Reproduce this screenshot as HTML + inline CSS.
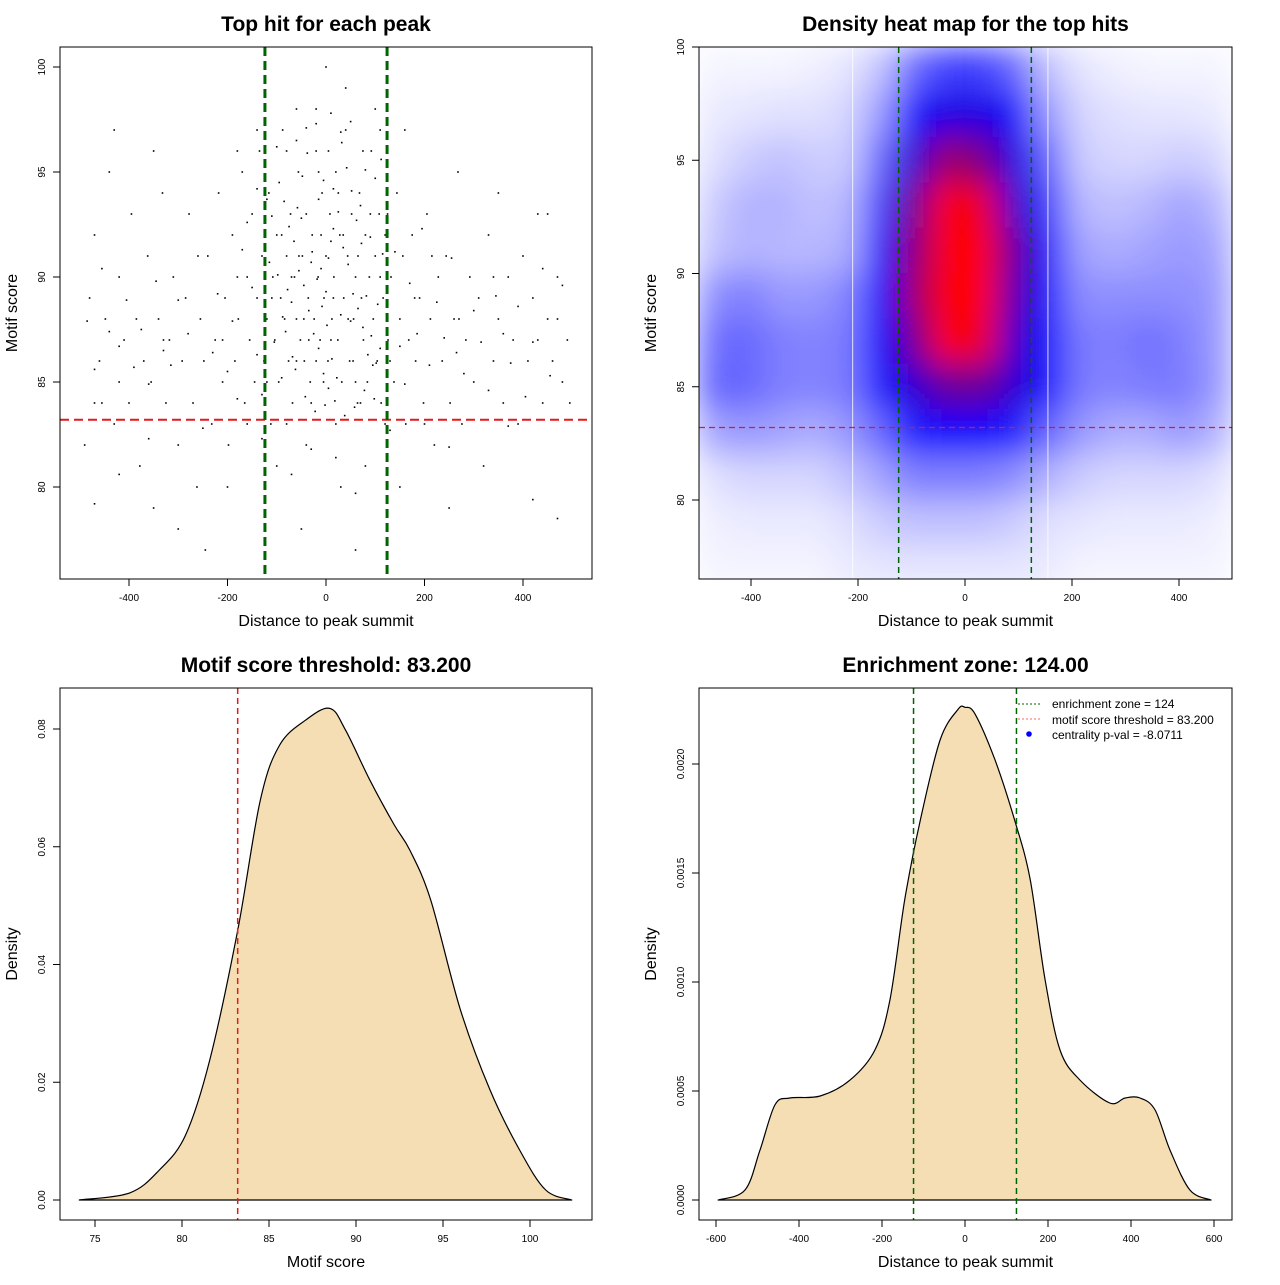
<!DOCTYPE html>
<html><head><meta charset="utf-8">
<style>
html,body{margin:0;padding:0;background:#fff;}
svg text{font-family:"Liberation Sans",sans-serif;fill:#000;}
</style></head>
<body>
<svg id="svg" width="1280" height="1280" viewBox="0 0 1280 1280" xmlns="http://www.w3.org/2000/svg">
<defs>
<clipPath id="c2"><rect x="699" y="47" width="533" height="532"/></clipPath>
<filter id="blur" x="0" y="0" width="1" height="1"><feGaussianBlur stdDeviation="16" edgeMode="duplicate"/></filter>
</defs>
</svg>
<script>
// ---------- data ----------
const scatterPts = "-480,89;-470,92;-460,86;-455,84;-448,88;-440,95;-430,83;-420,90;-410,87;-400,84;-395,93;-385,88;-378,81;-370,86;-362,91;-355,85;-350,79;-340,88;-332,94;-325,84;-318,87;-310,90;-300,82;-292,86;-285,89;-278,93;-270,84;-262,80;-255,88;-248,86;-240,91;-232,83;-225,87;-218,94;-210,85;-205,89;-198,82;-190,92;-185,86;-178,88;-170,95;-165,84;-160,90;-155,87;-150,93;-145,85;-140,89;-135,96;-130,91;-126,86;-120,88;-116,94;-112,83;-108,90;-104,87;-100,92;-96,85;-92,89;-88,97;-84,88;-80,91;-76,86;-72,93;-68,84;-64,90;-60,88;-56,95;-52,87;-48,91;-44,86;-40,93;-36,89;-32,85;-28,92;-24,88;-20,96;-16,90;-12,87;-8,94;-4,89;0,91;4,86;8,93;12,88;16,90;20,95;24,87;28,92;32,85;36,89;40,97;44,91;48,86;52,93;56,88;60,90;64,84;68,94;72,89;76,87;80,92;84,85;88,90;92,96;96,88;100,91;104,86;108,93;112,84;116,89;120,92;126,87;132,90;138,85;144,94;150,88;156,91;162,83;168,87;175,92;182,86;190,89;198,84;205,93;212,88;220,82;228,90;236,86;244,91;252,84;260,88;268,95;276,83;284,87;292,90;300,85;310,89;320,81;330,92;340,86;350,88;360,84;370,90;380,87;390,83;400,91;410,86;420,89;430,93;440,84;450,88;460,86;470,90;480,85;490,87;-140,97;-60,98;0,100;40,99;100,98;-100,81;-40,82;30,80;80,81;150,80;-200,80;-300,78;250,79;-50,78;60,77;-245,77;-80,83;20,83;-30,84;70,84;120,83;-160,83;200,83;-20,86;10,87;-45,88;55,86;-70,90;35,92;-90,92;90,93;-10,92;15,89;-55,91;65,91;-110,89;110,90;-35,87;45,88;-120,85;130,86;-60,86;60,85;-5,85;25,94;-15,95;5,96;-125,92;125,93;-180,90;180,89;-210,87;215,91;-260,91;270,88;-330,87;340,90;-420,85;430,87;-470,84;470,88;-490,82;495,84;-430,97;-350,96;350,94;450,93;-20,98;110,97;-80,96;75,96;-180,96;160,97";
const scatterPts2 = "-95,94.5;-85,93.6;-75,92.4;-65,91.7;-55,90.3;-45,89.6;-35,88.4;-25,87.3;-15,86.6;-5,85.4;5,84.7;15,94.2;25,93.1;35,91.4;45,90.6;55,89.2;65,88.5;75,87.6;85,86.3;95,85.8;105,88.7;115,91.1;-105,86.9;-115,90.7;-88,88.1;-78,89.4;-68,86.2;-58,93.3;-48,94.8;-38,95.9;-28,91.2;-18,89.9;-8,88.6;2,87.7;12,86.1;22,85.2;32,96.4;42,95.2;52,94.1;62,92.7;72,91.6;82,89.1;92,87.2;102,85.9;112,95.6;-98,90.1;-82,87.4;-62,85.6;-42,84.3;-22,83.6;-2,83.9;18,84.1;38,83.4;58,83.8;78,84.6;98,84.2;-150,89.5;-140,86.3;-130,84.4;-170,91.3;-190,87.9;-200,85.5;-220,89.2;-230,86.4;-180,84.2;-160,92.6;-140,94.2;140,91.2;150,86.7;160,84.9;170,89.7;185,87.3;195,92.3;210,85.8;225,88.8;240,87.1;255,90.9;265,86.4;280,85.4;300,88.4;315,86.9;330,84.6;345,89.1;360,87.3;375,85.9;390,88.6;405,84.3;420,86.9;440,90.4;455,85.3;480,89.6;-280,87.3;-300,88.9;-315,85.8;-330,86.5;-345,89.8;-360,84.9;-375,87.5;-390,85.7;-405,88.9;-420,86.7;-440,87.4;-455,90.4;-470,85.6;-485,87.9;-20,97.3;-40,97.1;10,97.8;30,96.9;50,97.4;-60,96.5;80,95.1;-120,93.7;-100,96.2;100,94.7;-30,81.8;20,81.4;-70,80.6;60,79.7;-130,82.3;130,82.7;-250,82.8;250,81.9;-360,82.3;370,82.9;-420,80.6;420,79.4;-470,79.2;470,78.5;-10,90.4;0,89.3;10,91.7;-50,92.8;50,87.9;-90,85.2;90,91.9;-110,92.9;110,86.6;-30,90.7;30,88.2;-70,88.8;70,93.4;-15,93.7;15,92.3;-5,94.6;5,90.9";
const heatX = [-469,-406,-344,-281,-219,-156,-94,-31,31,94,156,219,281,344,406,469];
const heatY = [99,97,95,93,91,89,87,85,83,81,79,77];
const heatZ = [
[.02,.02,.02,.03,.05,.12,.3,.38,.38,.3,.12,.05,.03,.02,.02,.02],
[.04,.05,.06,.06,.08,.2,.48,.55,.55,.48,.2,.08,.06,.05,.05,.04],
[.06,.1,.12,.1,.1,.3,.58,.78,.72,.55,.3,.1,.08,.08,.1,.08],
[.1,.15,.15,.12,.14,.38,.7,1,.92,.6,.38,.14,.12,.14,.18,.14],
[.12,.15,.14,.14,.16,.45,.75,1,.95,.68,.45,.18,.16,.18,.2,.18],
[.22,.25,.2,.2,.24,.5,.78,1,.95,.65,.45,.22,.22,.22,.22,.2],
[.28,.3,.25,.24,.26,.5,.7,1,.92,.6,.45,.26,.25,.28,.25,.2],
[.3,.3,.25,.24,.26,.45,.58,.68,.68,.58,.45,.26,.24,.26,.26,.2],
[.18,.2,.18,.16,.2,.3,.45,.5,.5,.45,.3,.2,.16,.16,.2,.15],
[.06,.08,.08,.08,.12,.18,.25,.25,.25,.22,.15,.1,.08,.08,.08,.06],
[.03,.04,.04,.04,.06,.1,.12,.12,.12,.1,.06,.05,.04,.04,.04,.03],
[.02,.02,.02,.02,.04,.05,.05,.05,.05,.05,.04,.02,.02,.02,.02,.02]];
const scoreX = [74.1,77.0,78.7,80.2,81.6,83.2,84.5,85.6,87.1,88.5,89.4,90.8,92.2,93.1,94.3,96.0,97.7,99.4,100.9,102.4];
const scoreD = [0,0.0012,0.0051,0.011,0.0238,0.0458,0.0679,0.0772,0.0815,0.0835,0.0798,0.0713,0.0637,0.0594,0.0509,0.0323,0.0187,0.0085,0.0017,0];
const distX = [-595,-530,-494,-458,-422,-349,-277,-217,-181,-145,-108,-60,-17,0,24,72,120,157,193,229,277,349,386,422,458,494,542,593];
const distD = [0,0.000046,0.000229,0.000436,0.000468,0.000477,0.00055,0.000688,0.000917,0.00138,0.00174,0.00211,0.00225,0.00226,0.00223,0.00202,0.00174,0.00147,0.00101,0.000688,0.00055,0.000445,0.000468,0.000468,0.000413,0.000229,0.000046,0];
const thresh = 83.2, zone = 124;
const xTicks1 = [-400,-200,0,200,400];
const yTicks1 = [80,85,90,95,100];
const xTicks3 = [75,80,85,90,95,100];
const yTicks3 = [0,0.02,0.04,0.06,0.08];
const yLabels3 = ["0.00","0.02","0.04","0.06","0.08"];
const xTicks4 = [-600,-400,-200,0,200,400,600];
const yTicks4 = [0,0.0005,0.001,0.0015,0.002];
const yLabels4 = ["0.0000","0.0005","0.0010","0.0015","0.0020"];

// ---------- helpers ----------
const svg = document.getElementById('svg');
const NS = "http://www.w3.org/2000/svg";
function mk(tag, attrs, parent){
  const e = document.createElementNS(NS, tag);
  for (const k in attrs) e.setAttribute(k, attrs[k]);
  (parent||svg).appendChild(e); return e;
}
function lin(d0,d1,r0,r1){ return v => r0 + (v-d0)/(d1-d0)*(r1-r0); }
function smooth(pts){
  let d = `M${pts[0][0].toFixed(1)},${pts[0][1].toFixed(1)}`;
  for(let i=0;i<pts.length-1;i++){
    const p0=pts[Math.max(0,i-1)],p1=pts[i],p2=pts[i+1],p3=pts[Math.min(pts.length-1,i+2)];
    const c1x=p1[0]+(p2[0]-p0[0])/6,c1y=p1[1]+(p2[1]-p0[1])/6;
    const c2x=p2[0]-(p3[0]-p1[0])/6,c2y=p2[1]-(p3[1]-p1[1])/6;
    d+=` C${c1x.toFixed(1)},${c1y.toFixed(1)} ${c2x.toFixed(1)},${c2y.toFixed(1)} ${p2[0].toFixed(1)},${p2[1].toFixed(1)}`;
  }
  return d;
}
function txt(x,y,s,size,opts){
  const t = mk('text',Object.assign({x:x,y:y,'font-size':size,'text-anchor':'middle'},opts||{}));
  t.textContent = s; return t;
}
function panel(b, title, xlab, ylab, xs, ys, xt, yt, ytl){
  const box = mk('rect',{x:b.x0,y:b.y0,width:b.x1-b.x0,height:b.y1-b.y0,fill:'none',stroke:'#000','stroke-width':1});
  
  
  const t = txt((b.x0+b.x1)/2, b.y0-16, title, 21, {'font-weight':'bold'});
  
  
  const xl = txt((b.x0+b.x1)/2, b.y1+47, xlab, 16);
  
  
  const yx = b.x0-43, yy=(b.y0+b.y1)/2;
  const yl = txt(yx, yy, ylab, 16, {transform:`rotate(-90 ${yx} ${yy})`});
  
  
  xt.forEach(v=>{
    const px = xs(v);
    mk('line',{x1:px,x2:px,y1:b.y1,y2:b.y1+7,stroke:'#000'});
    const l = txt(px, b.y1+22, String(v), 10);
    
    
  });
  yt.forEach((v,i)=>{
    const py = ys(v);
    mk('line',{x1:b.x0-7,x2:b.x0,y1:py,y2:py,stroke:'#000'});
    const lx = b.x0-15;
    const l = txt(lx, py, ytl?ytl[i]:String(v), 10, {transform:`rotate(-90 ${lx} ${py})`});
    
    
  });
}

// ---------- panel 1: scatter ----------
(function(){
  const b={x0:60,x1:592,y0:47,y1:579};
  const xs=lin(0,400,326,523), ys=lin(80,100,487,67);
  const g = mk('g',{});
  
  
  (scatterPts+';'+scatterPts2).split(';').forEach(p=>{
    const [x,y]=p.split(',').map(Number);
    const d = mk('rect',{x:xs(x)-0.8,y:ys(y)-0.8,width:1.6,height:1.6,fill:'#000'},g);
    
  });
  const h = mk('line',{x1:b.x0,x2:b.x1,y1:ys(thresh),y2:ys(thresh),stroke:'#e31a1c','stroke-width':2,'stroke-dasharray':'9,5'});
  
  
  [-zone,zone].forEach(z=>{
    const v = mk('line',{x1:xs(z),x2:xs(z),y1:b.y0,y2:b.y1,stroke:'#006400','stroke-width':3,'stroke-dasharray':'9,5'});
    
    
  });
  panel(b,'Top hit for each peak','Distance to peak summit','Motif score',xs,ys,xTicks1,yTicks1);
})();

// ---------- panel 2: heatmap ----------
(function(){
  const b={x0:699,x1:1232,y0:47,y1:579};
  const xs=lin(0,400,965,1179), ys=lin(80,100,500,47);
  function col(z){
    let r,gg,bl;
    if(z<0.5){const t=z/0.5; r=255*(1-t); gg=255*(1-t); bl=255;}
    else{const t=Math.min(1,(z-0.5)/0.45); r=255*t; gg=0; bl=255*(1-t);}
    return `rgb(${r|0},${gg|0},${bl|0})`;
  }
  const outer = mk('g',{'clip-path':'url(#c2)'});
  const g = mk('g',{filter:'url(#blur)'},outer);
  
  
  const cw = (xs(heatX[1])-xs(heatX[0])), ch = (ys(heatY[1])-ys(heatY[0]));
  mk('rect',{x:b.x0,y:b.y0,width:b.x1-b.x0,height:b.y1-b.y0,fill:col(0.05)},g);
  heatY.forEach((yv,i)=>heatX.forEach((xv,j)=>{
    const c = mk('rect',{x:xs(xv)-cw/2-0.5,y:ys(yv)-ch/2-0.5,width:cw+1,height:ch+1,fill:col(heatZ[i][j])},g);
    
  }));
  [-210,155].forEach(v=>mk('line',{x1:xs(v),x2:xs(v),y1:b.y0,y2:b.y1,stroke:'#fff','stroke-width':1,opacity:0.8}));
  const h = mk('line',{x1:b.x0,x2:b.x1,y1:ys(thresh),y2:ys(thresh),stroke:'#e31a1c','stroke-width':1.3,'stroke-dasharray':'6,4'});
  
  
  [-zone,zone].forEach(z=>{
    const v = mk('line',{x1:xs(z),x2:xs(z),y1:b.y0,y2:b.y1,stroke:'#006400','stroke-width':1.5,'stroke-dasharray':'6,4'});
    
    
  });
  panel(b,'Density heat map for the top hits','Distance to peak summit','Motif score',xs,ys,xTicks1,yTicks1);
})();

// ---------- panel 3: score density ----------
(function(){
  const b={x0:60,x1:592,y0:688,y1:1220};
  const xs=lin(75,100,95,530), ys=lin(0,0.08,1200,729);
  const pts = scoreX.map((x,i)=>[xs(x),ys(scoreD[i])]);
  const p = mk('path',{d:smooth(pts)+' Z',fill:'#F5DEB3',stroke:'#000','stroke-width':1.2,'stroke-linejoin':'round'});
  
  
  const v = mk('line',{x1:xs(thresh),x2:xs(thresh),y1:b.y0,y2:b.y1,stroke:'#e31a1c','stroke-width':1.5,'stroke-dasharray':'6,4'});
  
  
  panel(b,'Motif score threshold: 83.200','Motif score','Density',xs,ys,xTicks3,yTicks3,yLabels3);
})();

// ---------- panel 4: distance density ----------
(function(){
  const b={x0:699,x1:1232,y0:688,y1:1220};
  const xs=lin(0,600,965,1214), ys=lin(0,0.002,1200,764);
  const pts = distX.map((x,i)=>[xs(x),ys(distD[i])]);
  const p = mk('path',{d:smooth(pts)+' Z',fill:'#F5DEB3',stroke:'#000','stroke-width':1.2,'stroke-linejoin':'round'});
  
  
  [-zone,zone].forEach(z=>{
    const v = mk('line',{x1:xs(z),x2:xs(z),y1:b.y0,y2:b.y1,stroke:'#006400','stroke-width':1.5,'stroke-dasharray':'6,4'});
    
    
  });
  panel(b,'Enrichment zone: 124.00','Distance to peak summit','Density',xs,ys,xTicks4,yTicks4,yLabels4);
  const lg = mk('g',{});
  
  
  mk('line',{x1:1018,x2:1042,y1:704,y2:704,stroke:'#006400','stroke-dasharray':'2,2'},lg);
  mk('line',{x1:1018,x2:1042,y1:719,y2:719,stroke:'#ff6666','stroke-dasharray':'2,2'},lg);
  mk('circle',{cx:1029,cy:734,r:2.8,fill:'#0000ff'},lg);
  [['enrichment zone = 124',708],['motif score threshold = 83.200',724],['centrality p-val = -8.0711',739]].forEach(([s,y])=>{
    const t = mk('text',{x:1052,y:y,'font-size':12},lg);
    t.textContent=s;
    
    
  });
})();
</script>
</body></html>
